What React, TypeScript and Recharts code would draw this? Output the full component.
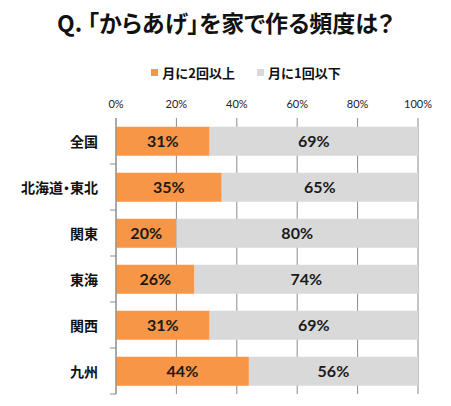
import { BarChart, Bar, XAxis, YAxis, CartesianGrid, Legend, LabelList } from "recharts";

const ORANGE = "#f79646";
const GRAY = "#d9d9d9";

const regions = ["全国", "北海道・東北", "関東", "東海", "関西", "九州"];
const twiceOrMore = [31, 35, 20, 26, 31, 44];
const onceOrLess = [69, 65, 80, 74, 69, 56];
const xTicks = [0, 20, 40, 60, 80, 100];

const data = regions.map((name, i) => ({
  name,
  more: twiceOrMore[i],
  less: onceOrLess[i],
}));

const NUM_FONT = "Lato, 'Noto Sans CJK JP', sans-serif";
const JP_FONT = "'Noto Sans CJK JP', sans-serif";

// category label + short separator tick at the bottom of each band
function RegionTick(props: any) {
  const { x, y, payload } = props;
  const off = payload?.offset ?? 0;
  return (
    <g>
      <line x1={x + 2} x2={x + 8} y1={y + off} y2={y + off} stroke="#8c8c8c" />
      <text
        x={x - 10}
        y={y}
        textAnchor="end"
        dominantBaseline="central"
        fontFamily={JP_FONT}
        fontWeight={700}
        fontSize={14}
        fill="#111"
        style={{ fontFeatureSettings: "'palt'" }}
      >
        {payload.value}
      </text>
    </g>
  );
}

function LegendContent() {
  const items = [
    { label: "月に2回以上", color: ORANGE },
    { label: "月に1回以下", color: GRAY },
  ];
  return (
    <div style={{ display: "flex", justifyContent: "center", gap: 22, paddingLeft: 74 }}>
      {items.map((it) => (
        <div key={it.label} style={{ display: "flex", alignItems: "center", gap: 4 }}>
          <span style={{ width: 7, height: 7, background: it.color, display: "inline-block" }} />
          <span style={{ fontFamily: JP_FONT, fontWeight: 700, fontSize: 13, color: "#111" }}>{it.label}</span>
        </div>
      ))}
    </div>
  );
}

export default function App() {
  return (
    <div style={{ position: "fixed", left: 0, top: 0, width: 451, height: 406, background: "#fff" }}>
      <div
        style={{
          position: "absolute",
          left: 0,
          top: 6,
          width: 451,
          textAlign: "center",
          fontFamily: JP_FONT,
          fontWeight: 700,
          fontSize: 23,
          lineHeight: "32px",
          color: "#111",
          fontFeatureSettings: "'palt'",
        }}
      >
        Q. 「からあげ」を家で作る頻度は？
      </div>
      <BarChart
        width={451}
        height={406}
        data={data}
        layout="vertical"
        margin={{ top: 74, right: 33, bottom: 12, left: 0 }}
        barCategoryGap="19%"
      >
        <CartesianGrid horizontal={false} stroke="#8c8c8c" />
        <XAxis
          type="number"
          orientation="top"
          domain={[0, 100]}
          ticks={xTicks}
          tickFormatter={(v) => `${v}%`}
          axisLine={false}
          tickLine={false}
          tickSize={6}
          tickMargin={4}
          height={25}
          tick={{ fontFamily: NUM_FONT, fontSize: 11, fill: "#222" }}
        />
        <YAxis
          type="category"
          dataKey="name"
          width={116}
          axisLine={{ stroke: "#8c8c8c" }}
          tickLine={false}
          tick={<RegionTick />}
        />
        <Legend verticalAlign="top" content={<LegendContent />} wrapperStyle={{ top: 63 }} />
        <Bar dataKey="more" stackId="a" fill={ORANGE} isAnimationActive={false}>
          <LabelList
            dataKey="more"
            position="center"
            formatter={(v: any) => `${v}%`}
            style={{ fontFamily: NUM_FONT, fontWeight: 700, fontSize: 16, fill: "#1a1a1a" }}
          />
        </Bar>
        <Bar dataKey="less" stackId="a" fill={GRAY} isAnimationActive={false}>
          <LabelList
            dataKey="less"
            position="center"
            formatter={(v: any) => `${v}%`}
            style={{ fontFamily: NUM_FONT, fontWeight: 700, fontSize: 16, fill: "#1a1a1a" }}
          />
        </Bar>
      </BarChart>
    </div>
  );
}
